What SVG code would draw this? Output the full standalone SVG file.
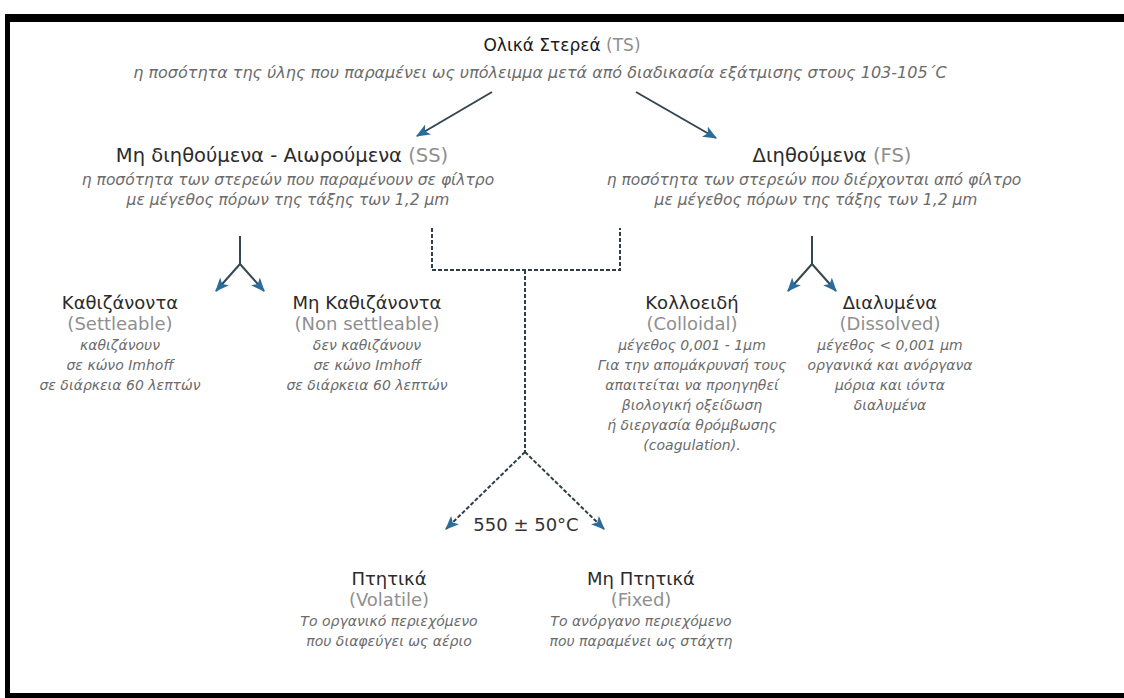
<svg xmlns="http://www.w3.org/2000/svg" width="1124" height="698" viewBox="0 0 1124 698">
<defs>
<style>
text{font-family:"DejaVu Sans","Liberation Sans",sans-serif;text-anchor:middle}
.h{font-size:18px;fill:#2b2b2b}
.big{font-size:19.5px}
.top{font-size:17px;fill:#1a1a1a}
.g{fill:#8f8f8f}
.d{font-size:14px;font-style:italic;fill:#6b6b6b}
.s{font-size:15.5px}
.s16{font-size:16px}
.ln{fill:none;stroke:#34474f;stroke-width:2}
.ds{fill:none;stroke:#2f3f47;stroke-width:2;stroke-dasharray:4 2}
</style>
<marker id="ah" viewBox="0 0 12 10" refX="11" refY="5" markerWidth="14" markerHeight="12" markerUnits="userSpaceOnUse" orient="auto">
<path d="M0,0 L12,5 L0,10 L3,5 z" fill="#2a6d9a"/>
</marker>
</defs>
<rect width="1124" height="698" fill="#ffffff"/>
<g id="frame" fill="#000">
<rect x="5" y="14" width="1119" height="8"/>
<rect x="5" y="14" width="5" height="684"/>
<rect x="5" y="693" width="1119" height="5"/>
</g>
<g id="connectors">
<line class="ln" x1="492" y1="92" x2="417" y2="136" marker-end="url(#ah)"/>
<line class="ln" x1="636" y1="92" x2="716" y2="138" marker-end="url(#ah)"/>
<path class="ln" d="M240,236 V264"/>
<line class="ln" x1="240" y1="264" x2="216" y2="291" marker-end="url(#ah)"/>
<line class="ln" x1="240" y1="264" x2="264" y2="291" marker-end="url(#ah)"/>
<path class="ln" d="M812,236 V264"/>
<line class="ln" x1="812" y1="264" x2="788" y2="291" marker-end="url(#ah)"/>
<line class="ln" x1="812" y1="264" x2="836" y2="291" marker-end="url(#ah)"/>
<path class="ds" d="M432,228 V270 H620 V228"/>
<path class="ds" d="M525,270 V452"/>
<line class="ds" x1="525" y1="452" x2="446" y2="529" marker-end="url(#ah)"/>
<line class="ds" x1="525" y1="452" x2="604" y2="529" marker-end="url(#ah)"/>
</g>
<g id="ts">
<text class="top" x="562" y="51">Ολικά Στερεά<tspan class="g"> (TS)</tspan></text>
<text class="d s16" x="540" y="78">η ποσότητα της ύλης που παραμένει ως υπόλειμμα μετά από διαδικασία εξάτμισης στους 103-105΄C</text>
</g>
<g id="ss">
<text class="h big" x="282" y="162">Μη διηθούμενα - Αιωρούμενα<tspan class="g"> (SS)</tspan></text>
<text class="d s" x="288" y="185">η ποσότητα των στερεών που παραμένουν σε φίλτρο</text>
<text class="d s" x="288" y="205">με μέγεθος πόρων της τάξης των 1,2 μm</text>
</g>
<g id="fs">
<text class="h big" x="832" y="162">Διηθούμενα<tspan class="g"> (FS)</tspan></text>
<text class="d s" x="814" y="185">η ποσότητα των στερεών που διέρχονται από φίλτρο</text>
<text class="d s" x="816" y="205">με μέγεθος πόρων της τάξης των 1,2 μm</text>
</g>
<g id="settleable">
<text class="h" x="120" y="309">Καθιζάνοντα</text>
<text class="h g" x="120" y="330">(Settleable)</text>
<text class="d" x="120" y="350">καθιζάνουν</text>
<text class="d" x="120" y="370">σε κώνο Imhoff</text>
<text class="d" x="120" y="390">σε διάρκεια 60 λεπτών</text>
</g>
<g id="nonsettleable">
<text class="h" x="367" y="309">Μη Καθιζάνοντα</text>
<text class="h g" x="367" y="330">(Non settleable)</text>
<text class="d" x="367" y="350">δεν καθιζάνουν</text>
<text class="d" x="367" y="370">σε κώνο Imhoff</text>
<text class="d" x="367" y="390">σε διάρκεια 60 λεπτών</text>
</g>
<g id="colloidal">
<text class="h" x="692" y="309">Κολλοειδή</text>
<text class="h g" x="692" y="330">(Colloidal)</text>
<text class="d" x="692" y="350">μέγεθος 0,001 - 1μm</text>
<text class="d" x="692" y="370">Για την απομάκρυνσή τους</text>
<text class="d" x="692" y="390">απαιτείται να προηγηθεί</text>
<text class="d" x="692" y="410">βιολογική οξείδωση</text>
<text class="d" x="692" y="430">ή διεργασία θρόμβωσης</text>
<text class="d" x="692" y="450">(coagulation).</text>
</g>
<g id="dissolved">
<text class="h" x="890" y="309">Διαλυμένα</text>
<text class="h g" x="890" y="330">(Dissolved)</text>
<text class="d" x="890" y="350">μέγεθος &lt; 0,001 μm</text>
<text class="d" x="890" y="370">οργανικά και ανόργανα</text>
<text class="d" x="890" y="390">μόρια και ιόντα</text>
<text class="d" x="890" y="410">διαλυμένα</text>
</g>
<g id="temp">
<text class="h" x="526" y="531" style="fill:#333">550 ± 50°C</text>
</g>
<g id="volatile">
<text class="h" x="389" y="585">Πτητικά</text>
<text class="h g" x="389" y="606">(Volatile)</text>
<text class="d" x="389" y="626">Το οργανικό περιεχόμενο</text>
<text class="d" x="389" y="646">που διαφεύγει ως αέριο</text>
</g>
<g id="fixed">
<text class="h" x="641" y="585">Μη Πτητικά</text>
<text class="h g" x="641" y="606">(Fixed)</text>
<text class="d" x="641" y="626">Το ανόργανο περιεχόμενο</text>
<text class="d" x="641" y="646">που παραμένει ως στάχτη</text>
</g>
</svg>
